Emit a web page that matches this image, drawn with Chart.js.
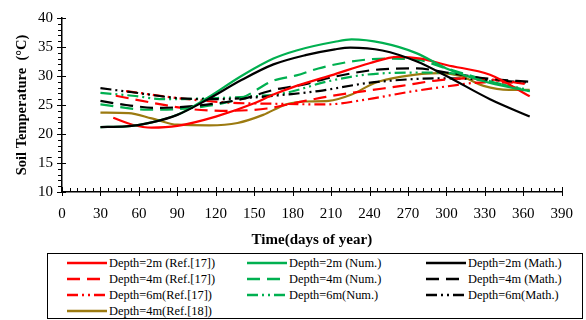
<!DOCTYPE html>
<html><head><meta charset="utf-8">
<script src="https://cdn.jsdelivr.net/npm/chart.js@4.4.1/dist/chart.umd.min.js"></script>
<style>
html,body{margin:0;padding:0;background:#fff;width:586px;height:320px;overflow:hidden;font-family:'Liberation Serif','Times New Roman',Times,serif;}
#wrap{position:absolute;left:0;top:0;width:586px;height:253px;}
#legend{position:absolute;left:47px;top:253px;width:536px;height:66px;border:1px solid #000;box-sizing:border-box;}
.item{position:absolute;height:16px;font-size:12.4px;line-height:16px;color:#000;white-space:nowrap;font-family:'Liberation Serif','Times New Roman',Times,serif;}
.item svg{position:absolute;left:0;top:0;}
.item span{position:absolute;left:42px;top:0;}
</style></head><body>
<div id="wrap"><canvas id="c" width="586" height="253"></canvas></div>
<div id="legend"></div>
<script>
// ---- data ----
const xTicks = [0,30,60,90,120,150,180,210,240,270,300,330,360,390];
const yTicks = [10,15,20,25,30,35,40];

const red2Days = [40,55,70,90,120,150,165,183,210,240,262,280,300,334,365];
const red2Temp = [22.8,21.6,21.1,21.4,23.0,25.3,26.8,28.3,30.1,32.2,33.3,33.0,31.9,30.2,26.5];
const green2Days = [30,50,70,90,114,140,165,183,213,226,250,277,300,334,365];
const green2Temp = [21.2,21.3,22.0,23.3,26.3,30.0,33.0,34.4,35.9,36.3,35.7,33.9,31.3,28.8,27.4];
const black2Days = [30,50,70,90,114,140,165,190,213,225,250,277,300,334,365];
const black2Temp = [21.2,21.3,22.0,23.3,26.0,29.3,32.0,33.6,34.6,34.9,34.4,32.5,30.0,26.0,23.0];

const red4Days = [42,75,100,130,160,183,206,236,265,295,320,340,362];
const red4Temp = [26.6,25.2,24.3,24.0,24.4,25.4,26.4,27.4,28.3,29.3,29.6,29.3,28.6];
const green4Days = [30,67,106,140,165,183,200,226,252,277,300,334,365];
const green4Temp = [25.1,24.2,24.6,26.2,29.2,30.1,31.3,32.5,33.0,32.8,31.3,29.1,27.4];
const black4Days = [30,50,75,106,140,165,190,213,252,277,300,334,365];
const black4Temp = [25.7,25.0,24.5,24.9,26.0,27.6,28.6,29.9,31.2,31.3,30.6,29.5,29.0];

const red6Days = [50,90,131,170,206,236,272,300,330,362];
const red6Temp = [27.4,26.2,25.4,25.2,25.1,25.9,27.3,28.2,28.9,28.8];
const green6Days = [30,55,80,121,150,175,206,236,277,303,334,362];
const green6Temp = [27.1,26.6,26.0,26.2,26.5,27.1,29.0,30.2,30.6,30.5,29.0,27.7];
const black6Days = [30,55,90,121,150,175,200,239,277,300,334,362];
const black6Temp = [27.9,27.2,26.2,26.0,26.3,26.8,27.4,28.8,29.5,29.6,29.3,28.9];

const brownDays = [30,52,70,90,115,137,157,175,190,208,226,244,265,295,311,329,349,365];
const brownTemp = [23.7,23.6,22.7,21.6,21.5,21.9,23.3,25.1,25.6,25.7,26.8,28.8,29.9,30.5,30.0,28.3,27.6,27.6];

const labels = ["Depth=2m (Ref.[17])","Depth=2m (Num.)","Depth=2m (Math.)",
 "Depth=4m (Ref.[17])","Depth=4m (Num.)","Depth=4m (Math.)",
 "Depth=6m(Ref.[17])","Depth=6m(Num.)","Depth=6m(Math.)","Depth=4m(Ref.[18])"];

const RED="#FF0000", GREEN="#00B050", BLACK="#000000", BROWN="#9C7A10";
const SOLID=[], DASH=[13,7], DDOT=[11,4,2,4,2,4];
const SERIF="'Liberation Serif', 'Times New Roman', Times, serif";

function pts(xs,ys){return xs.map((x,i)=>({x:x,y:ys[i]}));}
const series = [
 [red2Days,red2Temp,RED,SOLID],[green2Days,green2Temp,GREEN,SOLID],[black2Days,black2Temp,BLACK,SOLID],
 [red4Days,red4Temp,RED,DASH],[green4Days,green4Temp,GREEN,DASH],[black4Days,black4Temp,BLACK,DASH],
 [red6Days,red6Temp,RED,DDOT],[green6Days,green6Temp,GREEN,DDOT],[black6Days,black6Temp,BLACK,DDOT],
 [brownDays,brownTemp,BROWN,SOLID]];
// first drawn -> last drawn (last is on top)
const drawOrder=[9,6,7,8,3,4,5,0,1,2];
const datasets = series.map((s,i)=>({label:labels[i],data:pts(s[0],s[1]),borderColor:s[2],backgroundColor:s[2],
  borderDash:s[3],borderWidth:2.2,pointRadius:0,showLine:true,fill:false,cubicInterpolationMode:'monotone',
  order:9-drawOrder.indexOf(i)}));

const minorTicks={id:'minorTicks',afterDraw(ch){
  const c=ch.ctx,xs=ch.scales.x,ys=ch.scales.y;c.save();c.strokeStyle='#000';c.lineWidth=1;
  const yb=ys.bottom, xl=xs.left;
  for(let v=0;v<=390;v+=6){const p=Math.round(xs.getPixelForValue(v))+0.5;const maj=v%30===0;
    c.beginPath();c.moveTo(p,yb-(maj?5:4));c.lineTo(p,yb+(maj?4:0));c.stroke();}
  for(let v=10;v<=40;v+=1){const p=Math.round(ys.getPixelForValue(v))+0.5;const maj=v%5===0;
    c.beginPath();c.moveTo(xl-(maj?5:4),p);c.lineTo(xl+(maj?4:0),p);c.stroke();}
  c.restore();}};

const chart=new Chart(document.getElementById('c'),{type:'scatter',data:{datasets:datasets},
 options:{responsive:false,animation:false,devicePixelRatio:1,
  layout:{padding:{top:9,right:9,left:10,bottom:0}},
  plugins:{legend:{display:false},tooltip:{enabled:false}},
  scales:{
   x:{type:'linear',min:0,max:390,afterBuildTicks(s){s.ticks=xTicks.map(v=>({value:v}));},
     grid:{display:false,drawTicks:false},border:{display:true,color:'#000',width:1.5},
     ticks:{color:'#000',font:{family:SERIF,size:15},padding:13,maxRotation:0,autoSkip:false},
     title:{display:true,text:'Time(days of year)',color:'#000',font:{family:SERIF,size:15,weight:'bold'},padding:{top:4}},
     afterFit(s){s.height=61;}},
   y:{type:'linear',min:10,max:40,afterBuildTicks(s){s.ticks=yTicks.map(v=>({value:v}));},
     grid:{display:false,drawTicks:false},border:{display:true,color:'#000',width:1.5},
     ticks:{color:'#000',font:{family:SERIF,size:15},padding:9},
     title:{display:true,text:'Soil Temperature  (°C)',color:'#000',font:{family:SERIF,size:14.5,weight:'bold'},padding:{bottom:0}},
     afterFit(s){s.width=52;}}
  }},plugins:[minorTicks]});

// HTML legend built from datasets
const lg=document.getElementById('legend');
const colX=[19,199,378], rowY=[1,16.5,32.5,49];
datasets.forEach((d,i)=>{
  const col=i<9?i%3:0,row=Math.floor(i/3);
  const el=document.createElement('div');el.className='item';
  el.style.left=colX[col]+'px';el.style.top=rowY[row]+'px';
  const dash=d.borderDash.length?d.borderDash.join(','):'none';
  el.innerHTML='<svg width="42" height="16"><line x1="0" y1="8" x2="40" y2="8" stroke="'+d.borderColor+'" stroke-width="2.5" stroke-dasharray="'+dash+'"/></svg><span>'+d.label+'</span>';
  lg.appendChild(el);});
</script></body></html>
